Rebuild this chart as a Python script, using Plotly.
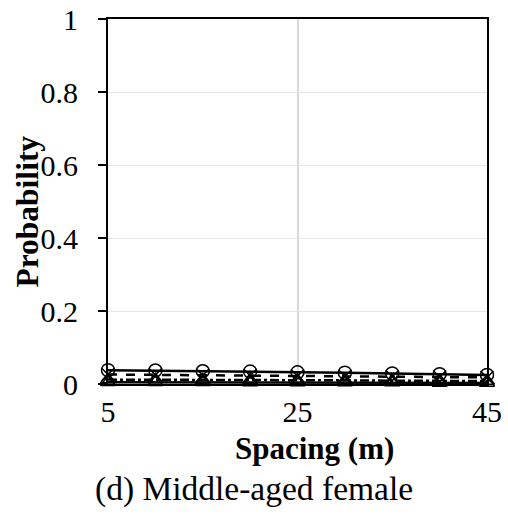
import plotly.graph_objects as go

spacing = [5, 10, 15, 20, 25, 30, 35, 40, 45]
series_circle = [0.038, 0.037, 0.035, 0.034, 0.032, 0.031, 0.029, 0.027, 0.025]
series_dash = [0.026, 0.025, 0.024, 0.023, 0.022, 0.021, 0.020, 0.019, 0.018]
series_dashdot = [0.012, 0.012, 0.011, 0.011, 0.010, 0.010, 0.009, 0.009, 0.008]
series_tri = [0.005, 0.005, 0.005, 0.004, 0.004, 0.004, 0.004, 0.003, 0.003]
y_ticks = [0, 0.2, 0.4, 0.6, 0.8, 1]
y_labels = ["0", "0.2", "0.4", "0.6", "0.8", "1"]
x_ticks = [5, 25, 45]

font = "Liberation Serif, Times New Roman, serif"
fig = go.Figure()
specs = [
    (series_circle, "solid", "circle-open"),
    (series_dash, "dash", "x-thin-open"),
    (series_dashdot, "dashdot", "triangle-up-open"),
    (series_tri, "solid", "triangle-up-open"),
]
for vals, dash, sym in specs:
    fig.add_trace(go.Scatter(
        x=spacing, y=vals, mode="lines+markers",
        line=dict(color="black", width=2.5, dash=dash),
        marker=dict(symbol=sym, size=13, color="black", line=dict(color="black", width=1.5)),
        showlegend=False, cliponaxis=False,
    ))

fig.update_layout(
    width=508, height=515,
    margin=dict(l=108, r=21, t=19, b=131),
    paper_bgcolor="white", plot_bgcolor="white",
    font=dict(family=font, color="black", size=30),
    xaxis=dict(
        range=[5, 45], tickvals=x_ticks, showgrid=True, gridcolor="#d9d9d9", gridwidth=1.5,
        showline=True, linecolor="black", linewidth=2, mirror=True,
        ticks="", tickfont=dict(size=30), zeroline=False, automargin=False,
    ),
    yaxis=dict(
        range=[0, 1], tickvals=y_ticks, ticktext=y_labels, showgrid=True, gridcolor="#e6e6e6", gridwidth=1,
        showline=True, linecolor="black", linewidth=2, mirror=True,
        ticks="outside", ticklen=8, tickwidth=2, tickcolor="black", tickfont=dict(size=30),
        ticklabelstandoff=14, zeroline=False, automargin=False,
    ),
)
fig.add_annotation(
    text="<b>Spacing (m)</b>", xref="paper", yref="paper",
    x=0.546, y=-0.178, xanchor="center", yanchor="middle", showarrow=False,
    font=dict(size=31, family=font), borderpad=0,
)
fig.add_annotation(
    text="<b>Probability</b>", xref="paper", yref="paper", textangle=-90,
    x=-0.211, y=0.4725, xanchor="center", yanchor="middle", showarrow=False,
    font=dict(size=31.5, family=font),
)
fig.add_annotation(
    text="(d) Middle-aged female", xref="paper", yref="paper",
    x=0.385, y=-0.288, xanchor="center", yanchor="middle", showarrow=False,
    font=dict(size=33.5, family=font), borderpad=0,
)
fig.write_html("out.html")
